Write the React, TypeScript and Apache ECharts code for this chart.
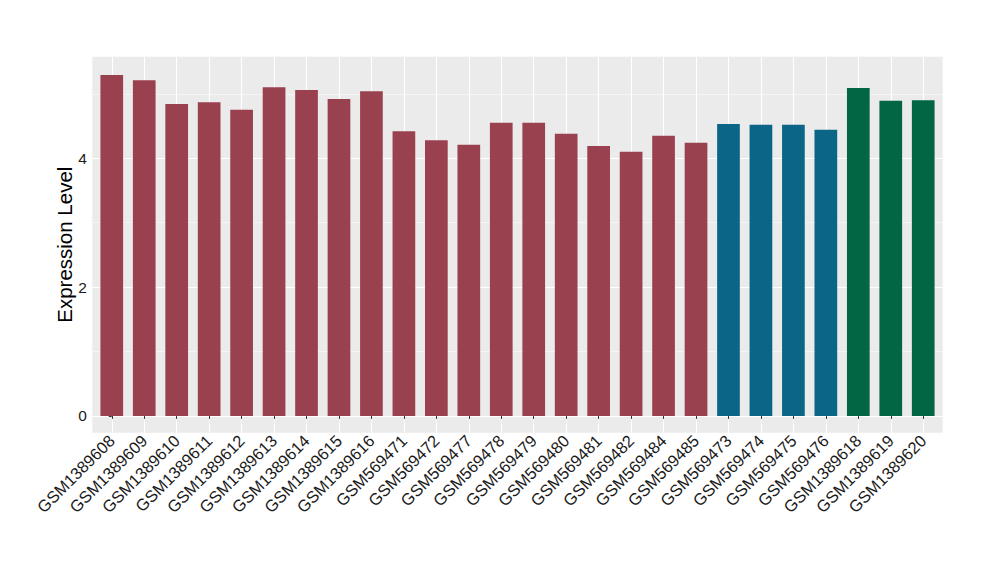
import React, { useEffect, useRef } from "react";
import * as echarts from "echarts";

const categories = [
  "GSM1389608", "GSM1389609", "GSM1389610", "GSM1389611", "GSM1389612",
  "GSM1389613", "GSM1389614", "GSM1389615", "GSM1389616", "GSM569471",
  "GSM569472", "GSM569477", "GSM569478", "GSM569479", "GSM569480",
  "GSM569481", "GSM569482", "GSM569484", "GSM569485", "GSM569473",
  "GSM569474", "GSM569475", "GSM569476", "GSM1389618", "GSM1389619",
  "GSM1389620",
];
const values = [
  5.29, 5.21, 4.84, 4.87, 4.75, 5.10, 5.06, 4.92, 5.04, 4.42,
  4.28, 4.21, 4.55, 4.55, 4.38, 4.19, 4.10, 4.35, 4.24, 4.53,
  4.52, 4.52, 4.44, 5.09, 4.89, 4.90,
];
const groups = [
  0, 0, 0, 0, 0, 0, 0, 0, 0, 0, 0, 0, 0, 0, 0, 0, 0, 0, 0,
  1, 1, 1, 1, 2, 2, 2,
];
const groupColors = ["#9A4150", "#0B6586", "#026645"];
const yMajorTicks = [0, 2, 4];
const yMinorTicks = [1, 3, 5];
const yTitle = "Expression Level";

const FONT = "'Liberation Sans', Arial, sans-serif";

export default function App() {
  const ref = useRef<HTMLDivElement>(null);
  useEffect(() => {
    if (!ref.current) return;
    const chart = echarts.init(ref.current, undefined, { renderer: "svg" });
    const idx = categories.map((_, i) => i);
    chart.setOption({
      animation: false,
      textStyle: { fontFamily: FONT },
      grid: {
        left: 92.3,
        right: 57.3,
        top: 56.7,
        bottom: 147.3,
        show: true,
        backgroundColor: "#EBEBEB",
        borderWidth: 0,
      },
      xAxis: {
        type: "value",
        min: -0.6,
        max: categories.length - 1 + 0.6,
        axisLine: { show: false },
        axisTick: {
          show: true,
          length: 3,
          customValues: idx,
          lineStyle: { color: "#333333", width: 1 },
        },
        axisLabel: {
          customValues: idx,
          formatter: (v: number) => categories[Math.round(v)] ?? "",
          rotate: 45,
          fontSize: 16.5,
          color: "#1A1A1A",
          margin: 5,
          fontFamily: FONT,
        },
        splitLine: { show: true, lineStyle: { color: "#FFFFFF", width: 1.1 } },
      },
      yAxis: {
        type: "value",
        min: -0.26,
        max: 5.575,
        name: yTitle,
        nameLocation: "middle",
        nameGap: 17,
        nameMoveOverlap: false,
        nameTextStyle: { fontSize: 20.5, color: "#000000", fontFamily: FONT },
        axisLine: { show: false },
        axisTick: {
          show: true,
          length: 3,
          customValues: yMajorTicks,
          lineStyle: { color: "#333333", width: 1 },
        },
        axisLabel: {
          customValues: yMajorTicks,
          fontSize: 15.5,
          color: "#1A1A1A",
          margin: 5.5,
          fontFamily: FONT,
        },
        splitLine: { show: true, lineStyle: { color: "#FFFFFF", width: 1.1 } },
      },
      series: [
        {
          type: "line",
          data: [],
          silent: true,
          markLine: {
            z: 1,
            silent: true,
            symbol: ["none", "none"],
            label: { show: false },
            lineStyle: { color: "#FFFFFF", width: 0.5, type: "solid" },
            data: yMinorTicks.map((v) => ({ yAxis: v })),
          },
        },
        {
          type: "bar",
          z: 3,
          barWidth: 22.7,
          data: values.map((v, i) => ({
            value: [i, v],
            itemStyle: { color: groupColors[groups[i]] },
          })),
        },
      ],
    });
    return () => chart.dispose();
  }, []);
  return <div ref={ref} style={{ width: 1000, height: 580, margin: -8 }} />;
}
